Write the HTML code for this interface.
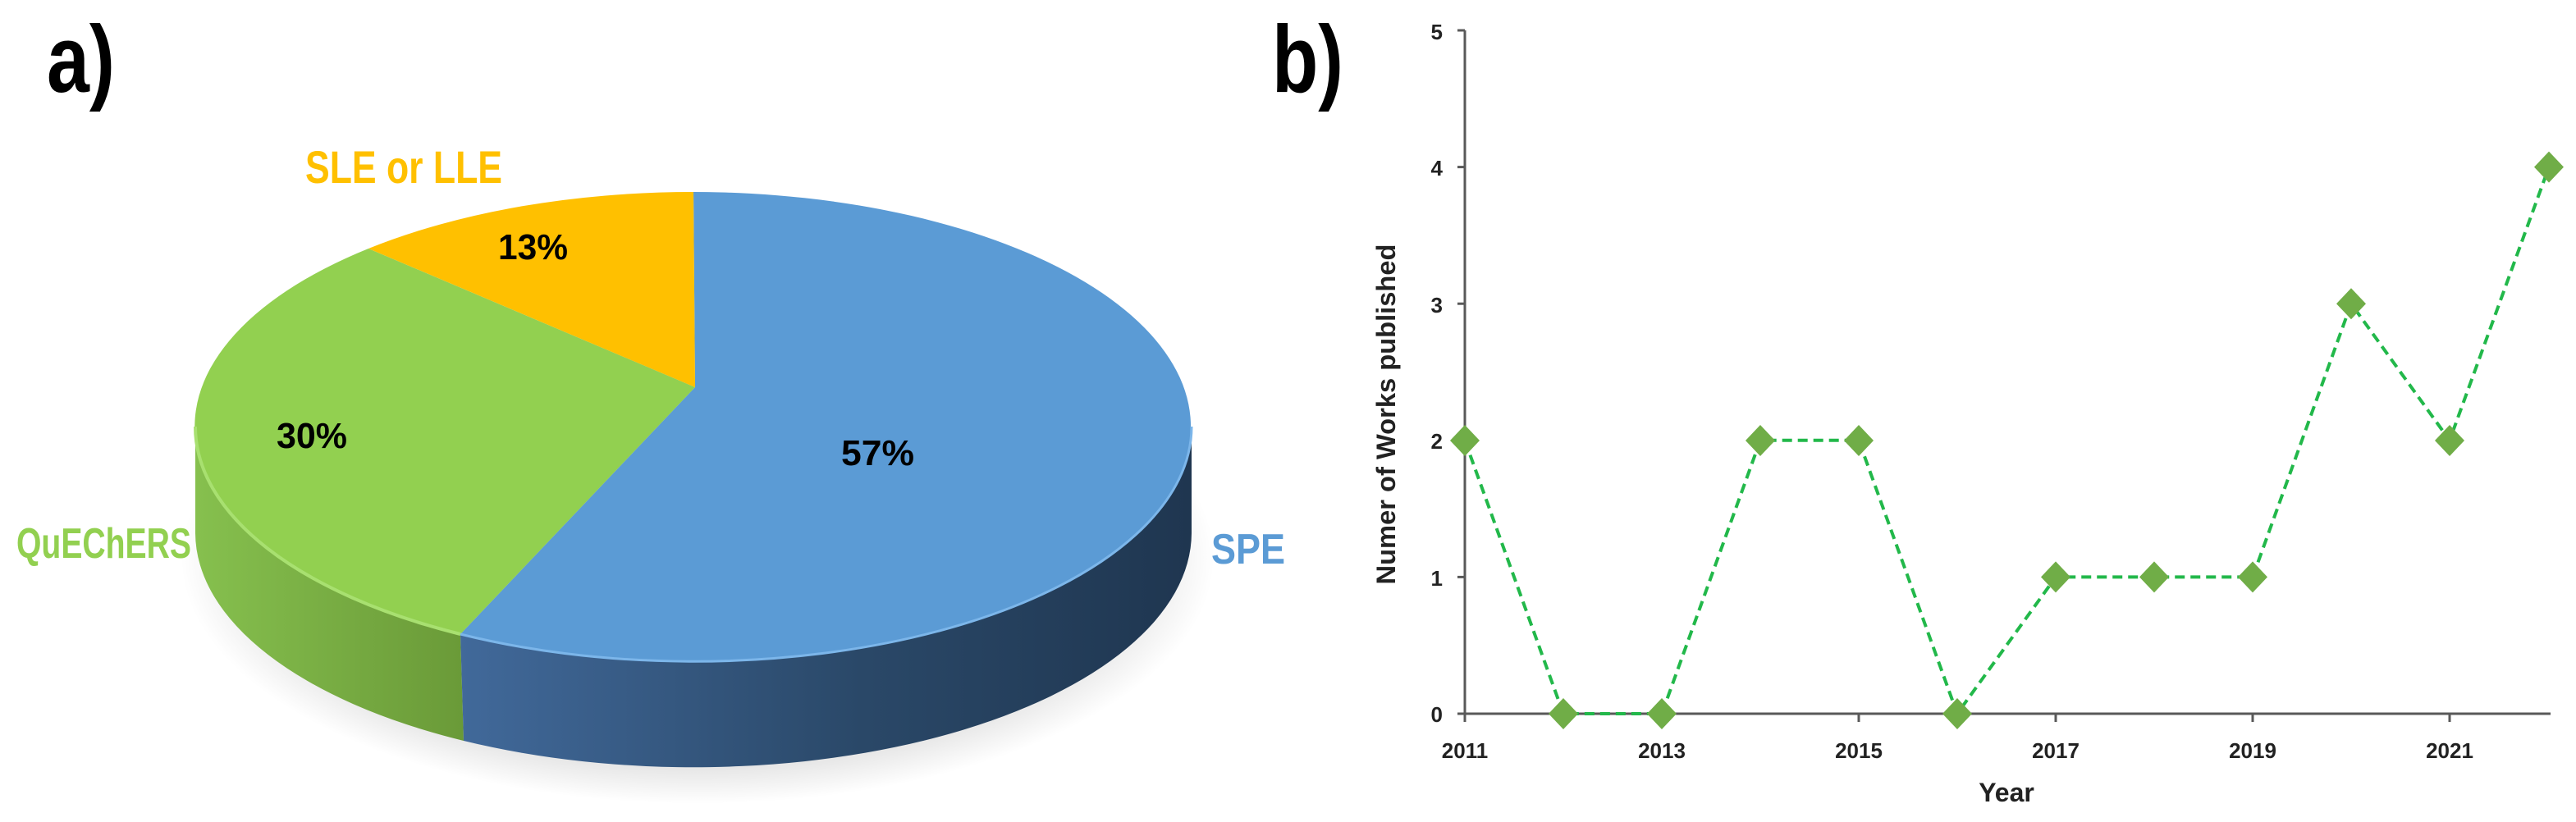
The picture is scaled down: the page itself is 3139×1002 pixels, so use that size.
<!DOCTYPE html>
<html><head><meta charset="utf-8"><style>
html,body{margin:0;padding:0;background:#fff;}
svg{display:block;}
text{font-family:"Liberation Sans",sans-serif;font-weight:bold;}
</style></head><body>
<svg width="3139" height="1002" viewBox="0 0 3139 1002" xmlns="http://www.w3.org/2000/svg">
<defs>
<linearGradient id="bs" x1="0" x2="1" y1="0" y2="0">
<stop offset="0" stop-color="#41699a"/><stop offset="0.55" stop-color="#2a4868"/><stop offset="1" stop-color="#1f3650"/>
</linearGradient>
<linearGradient id="gs" x1="0" x2="1" y1="0" y2="0">
<stop offset="0" stop-color="#86c04e"/><stop offset="1" stop-color="#6a9a38"/>
</linearGradient>
<radialGradient id="sh" cx="0.5" cy="0.5" r="0.5"><stop offset="0.85" stop-color="#000" stop-opacity="0.10"/><stop offset="1" stop-color="#000" stop-opacity="0"/></radialGradient>
</defs>
<text x="57" y="112" font-size="116" textLength="83" lengthAdjust="spacingAndGlyphs">a)</text>
<text x="1550" y="112" font-size="116" textLength="87" lengthAdjust="spacingAndGlyphs">b)</text>

<!-- pie -->
<ellipse cx="850" cy="680" rx="630" ry="300" fill="url(#sh)"/>
<path d="M238 520 L238 650 A607 286 0 0 0 565 903 L561 773 A607 286 0 0 1 238 520 Z" fill="url(#gs)"/>
<path d="M561 773 L565 903 A607 286 0 0 0 1452 650 L1452 520 A607 286 0 0 1 561 773 Z" fill="url(#bs)"/>
<path d="M847 472 L845 234 A607 286 0 1 1 561 773 Z" fill="#5b9bd5"/>
<path d="M847 472 L561 773 A607 286 0 0 1 449 303 Z" fill="#92d050"/>
<path d="M847 472 L449 303 A607 286 0 0 1 845 234 Z" fill="#ffc000"/>
<path d="M238 520 A607 286 0 0 0 561 773" fill="none" stroke="#a8e070" stroke-width="4"/>
<path d="M561 773 A607 286 0 0 0 1452 520" fill="none" stroke="#7cb6ea" stroke-width="3"/>

<text x="372" y="223" font-size="56" fill="#ffc000" textLength="240" lengthAdjust="spacingAndGlyphs">SLE or LLE</text>
<text x="607" y="316" font-size="44" fill="#000" textLength="85" lengthAdjust="spacingAndGlyphs">13%</text>
<text x="337" y="546" font-size="44" fill="#000" textLength="86" lengthAdjust="spacingAndGlyphs">30%</text>
<text x="1025" y="567" font-size="44" fill="#000" textLength="89" lengthAdjust="spacingAndGlyphs">57%</text>
<text x="20" y="680" font-size="52" fill="#92d050" textLength="213" lengthAdjust="spacingAndGlyphs">QuEChERS</text>
<text x="1476" y="687" font-size="52" fill="#5b9bd5" textLength="90" lengthAdjust="spacingAndGlyphs">SPE</text>

<!-- line chart -->
<g stroke="#595959" stroke-width="3">
<line x1="1785" y1="37" x2="1785" y2="870"/>
<line x1="1785" y1="870" x2="3108" y2="870"/>
<line x1="1776" y1="37" x2="1785" y2="37"/>
<line x1="1776" y1="203.6" x2="1785" y2="203.6"/>
<line x1="1776" y1="370.2" x2="1785" y2="370.2"/>
<line x1="1776" y1="536.8" x2="1785" y2="536.8"/>
<line x1="1776" y1="703.4" x2="1785" y2="703.4"/>
<line x1="1776" y1="870" x2="1785" y2="870"/>
<line x1="1785" y1="870" x2="1785" y2="880"/>
<line x1="2025" y1="870" x2="2025" y2="880"/>
<line x1="2265" y1="870" x2="2265" y2="880"/>
<line x1="2505" y1="870" x2="2505" y2="880"/>
<line x1="2745" y1="870" x2="2745" y2="880"/>
<line x1="2985" y1="870" x2="2985" y2="880"/>
</g>
<g font-size="26" fill="#222" text-anchor="end">
<text x="1758" y="48">5</text>
<text x="1758" y="214">4</text>
<text x="1758" y="381">3</text>
<text x="1758" y="547">2</text>
<text x="1758" y="714">1</text>
<text x="1758" y="880">0</text>
</g>
<g font-size="26" fill="#222" text-anchor="middle">
<text x="1785" y="924">2011</text>
<text x="2025" y="924">2013</text>
<text x="2265" y="924">2015</text>
<text x="2505" y="924">2017</text>
<text x="2745" y="924">2019</text>
<text x="2985" y="924">2021</text>
<text x="2445" y="977" font-size="32">Year</text>
</g>
<text transform="translate(1700,505) rotate(-90)" font-size="32" fill="#222" text-anchor="middle" textLength="415" lengthAdjust="spacingAndGlyphs">Numer of Works published</text>

<polyline fill="none" stroke="#22b84a" stroke-width="4" stroke-dasharray="12,7"
points="1785,536.8 1905,870 2025,870 2145,536.8 2265,536.8 2385,870 2505,703.4 2625,703.4 2745,703.4 2865,370.2 2985,536.8 3106,203.6"/>
<g fill="#70ad47">
<path d="M1785 518 l18 19 l-18 19 l-18 -19z"/>
<path d="M1905 851 l18 19 l-18 19 l-18 -19z"/>
<path d="M2025 851 l18 19 l-18 19 l-18 -19z"/>
<path d="M2145 518 l18 19 l-18 19 l-18 -19z"/>
<path d="M2265 518 l18 19 l-18 19 l-18 -19z"/>
<path d="M2385 851 l18 19 l-18 19 l-18 -19z"/>
<path d="M2505 684.4 l18 19 l-18 19 l-18 -19z"/>
<path d="M2625 684.4 l18 19 l-18 19 l-18 -19z"/>
<path d="M2745 684.4 l18 19 l-18 19 l-18 -19z"/>
<path d="M2865 351.2 l18 19 l-18 19 l-18 -19z"/>
<path d="M2985 518 l18 19 l-18 19 l-18 -19z"/>
<path d="M3106 184.6 l18 19 l-18 19 l-18 -19z"/>
</g>
</svg>
</body></html>
